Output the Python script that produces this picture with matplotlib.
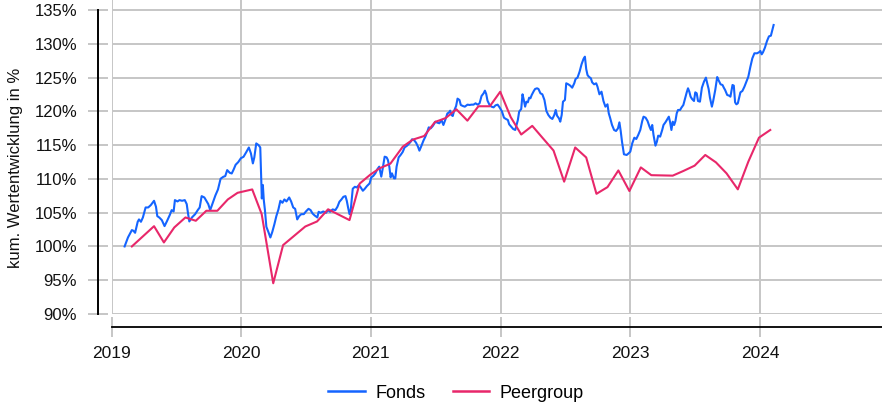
import matplotlib
matplotlib.use("Agg")
import matplotlib.pyplot as plt
from matplotlib.ticker import FuncFormatter

plt.rcParams['font.family'] = ['Liberation Sans', 'DejaVu Sans']

# Fonds: x = decimal year, y = cumulative performance in %
fonds_x = [
    2019.101, 2019.127, 2019.157, 2019.169, 2019.182, 2019.202, 2019.212, 2019.227, 2019.242, 2019.263,
    2019.283, 2019.303, 2019.328, 2019.343, 2019.353, 2019.368, 2019.388, 2019.409, 2019.429, 2019.449,
    2019.464, 2019.479, 2019.489, 2019.509, 2019.524, 2019.544, 2019.565, 2019.580, 2019.590, 2019.600,
    2019.620, 2019.645, 2019.665, 2019.680, 2019.695, 2019.716, 2019.731, 2019.746, 2019.761, 2019.781,
    2019.801, 2019.821, 2019.841, 2019.862, 2019.877, 2019.892, 2019.912, 2019.927, 2019.942, 2019.957,
    2019.977, 2019.998,
    2020.018, 2020.039, 2020.059, 2020.075, 2020.090, 2020.101, 2020.116, 2020.134, 2020.147, 2020.159,
    2020.167, 2020.174, 2020.183, 2020.194, 2020.209, 2020.225, 2020.240, 2020.256, 2020.271, 2020.287,
    2020.302, 2020.318, 2020.333, 2020.349, 2020.370, 2020.385, 2020.401, 2020.416, 2020.432, 2020.447,
    2020.463, 2020.483, 2020.499, 2020.519, 2020.535, 2020.550, 2020.566, 2020.587, 2020.597, 2020.612,
    2020.633, 2020.654, 2020.669, 2020.685, 2020.705, 2020.726, 2020.742, 2020.757, 2020.773, 2020.788,
    2020.804, 2020.814, 2020.824, 2020.835, 2020.845, 2020.860, 2020.876, 2020.891, 2020.907, 2020.922,
    2020.938, 2020.953, 2020.969, 2020.990,
    2021.003, 2021.018, 2021.034, 2021.049, 2021.064, 2021.080, 2021.090, 2021.106, 2021.121, 2021.131,
    2021.142, 2021.152, 2021.162, 2021.178, 2021.188, 2021.198, 2021.214, 2021.229, 2021.245, 2021.260,
    2021.276, 2021.291, 2021.307, 2021.317, 2021.332, 2021.348, 2021.363, 2021.374, 2021.389, 2021.405,
    2021.420, 2021.436, 2021.446, 2021.461, 2021.477, 2021.487, 2021.497, 2021.513, 2021.528, 2021.544,
    2021.559, 2021.575, 2021.590, 2021.601, 2021.611, 2021.621, 2021.631, 2021.642, 2021.657, 2021.668,
    2021.683, 2021.693, 2021.709, 2021.724, 2021.745, 2021.760, 2021.776, 2021.791, 2021.807, 2021.822,
    2021.838, 2021.853, 2021.869, 2021.879, 2021.889, 2021.899, 2021.915, 2021.930, 2021.946, 2021.961,
    2021.977, 2021.992,
    2022.010, 2022.026, 2022.041, 2022.056, 2022.066, 2022.082, 2022.097, 2022.113, 2022.123, 2022.133,
    2022.143, 2022.159, 2022.169, 2022.179, 2022.189, 2022.199, 2022.210, 2022.220, 2022.230, 2022.240,
    2022.256, 2022.266, 2022.281, 2022.292, 2022.307, 2022.322, 2022.338, 2022.353, 2022.368, 2022.384,
    2022.399, 2022.414, 2022.425, 2022.435, 2022.450, 2022.460, 2022.471, 2022.481, 2022.496, 2022.506,
    2022.522, 2022.537, 2022.552, 2022.568, 2022.578, 2022.593, 2022.609, 2022.624, 2022.639, 2022.650,
    2022.660, 2022.670, 2022.680, 2022.696, 2022.706, 2022.721, 2022.737, 2022.747, 2022.762, 2022.778,
    2022.793, 2022.808, 2022.824, 2022.834, 2022.844, 2022.859, 2022.875, 2022.890, 2022.905, 2022.916,
    2022.926, 2022.936, 2022.951, 2022.972, 2022.987,
    2023.000, 2023.015, 2023.031, 2023.046, 2023.061, 2023.077, 2023.092, 2023.102, 2023.118, 2023.133,
    2023.148, 2023.159, 2023.169, 2023.179, 2023.194, 2023.205, 2023.215, 2023.230, 2023.246, 2023.256,
    2023.271, 2023.286, 2023.297, 2023.307, 2023.317, 2023.327, 2023.338, 2023.348, 2023.358, 2023.368,
    2023.384, 2023.394, 2023.409, 2023.419, 2023.435, 2023.445, 2023.455, 2023.465, 2023.476, 2023.491,
    2023.501, 2023.512, 2023.522, 2023.537, 2023.552, 2023.568, 2023.583, 2023.593, 2023.604, 2023.614,
    2023.629, 2023.639, 2023.655, 2023.670, 2023.680, 2023.696, 2023.711, 2023.721, 2023.731, 2023.747,
    2023.762, 2023.772, 2023.788, 2023.798, 2023.808, 2023.818, 2023.829, 2023.839, 2023.849, 2023.864,
    2023.880, 2023.895, 2023.910, 2023.926, 2023.941, 2023.957, 2023.977, 2023.992, 2024.003, 2024.013,
    2024.023, 2024.038, 2024.054, 2024.069, 2024.084, 2024.095, 2024.105,
]
fonds_y = [
    100.00, 101.33, 102.42, 102.32, 102.02, 103.65, 104.00, 103.65, 104.29, 105.77,
    105.77, 106.12, 106.76, 105.87, 104.49, 104.29, 103.90, 103.01, 103.80, 104.64,
    105.38, 105.18, 106.86, 106.66, 106.86, 106.76, 106.86, 106.27, 104.88, 103.70,
    104.29, 104.78, 105.38, 105.77, 107.45, 107.25, 106.76, 106.27, 105.38, 106.46,
    107.55, 108.44, 110.02, 110.31, 110.41, 111.30, 110.90, 110.80, 111.40, 112.09,
    112.48, 113.07,
    113.27, 113.96, 114.65, 113.77, 112.29, 113.17, 115.25, 115.00, 114.65, 107.10,
    109.10, 106.90, 105.38, 102.91, 102.17, 101.33, 102.17, 103.30, 104.49, 105.48,
    106.76, 106.46, 106.96, 106.66, 107.25, 106.66, 105.77, 105.57, 104.00, 104.49,
    104.78, 104.78, 105.18, 105.57, 105.38, 104.88, 104.59, 104.29, 105.13, 104.98,
    105.18, 104.98, 105.38, 105.13, 105.48, 105.38, 105.87, 106.61, 106.96, 107.35,
    107.45, 106.76, 105.77, 104.78, 105.48, 108.54, 108.83, 108.73, 109.08, 108.73,
    108.24, 108.54, 108.93, 109.33,
    110.23, 110.43, 110.82, 111.41, 111.81, 110.33, 111.41, 113.29, 113.19, 112.80,
    111.81, 110.23, 110.82, 110.08, 110.08, 111.81, 113.19, 113.54, 113.98, 114.67,
    114.87, 115.16, 115.51, 115.86, 115.76, 115.36, 114.77, 114.18, 114.87, 115.66,
    116.25, 117.04, 117.63, 117.48, 117.83, 118.13, 118.47, 118.32, 118.23, 118.72,
    117.98, 118.82, 119.70, 119.80, 120.10, 119.46, 119.31, 120.10, 120.79, 121.88,
    121.68, 120.94, 120.79, 120.69, 120.99, 120.94, 120.99, 120.99, 121.19, 120.99,
    121.19, 122.27, 122.67, 123.06, 122.57, 121.58, 120.94, 120.69, 120.59, 120.89,
    120.99, 120.59,
    120.00, 119.06, 118.87, 118.72, 118.08, 117.73, 117.39, 117.24, 117.98, 118.72,
    119.95, 120.35, 122.52, 121.68, 120.69, 121.43, 121.33, 122.02, 121.93, 122.42,
    123.01, 123.31, 123.41, 123.31, 122.67, 122.52, 121.68, 120.05, 119.46, 119.06,
    118.87, 119.46, 120.20, 119.36, 118.96, 118.47, 119.46, 121.43, 121.68, 124.15,
    124.00, 123.80, 123.50, 124.15, 124.79, 124.99, 125.87, 126.96, 127.75, 128.09,
    126.27, 125.38, 125.13, 124.89, 124.29, 124.00, 124.15, 123.65, 122.52, 122.91,
    121.53, 120.69, 121.04, 119.70, 119.06, 117.98, 117.24, 117.09, 117.48, 118.37,
    117.09, 115.51, 113.64, 113.54, 113.78,
    114.03, 115.26, 116.10, 115.90, 116.50, 117.24, 118.57, 119.21, 119.06, 118.57,
    117.73, 117.24, 117.98, 116.50, 114.92, 115.51, 116.40, 116.25, 117.24, 117.98,
    118.38, 118.87, 119.21, 118.38, 117.24, 118.47, 117.98, 118.57, 119.71, 120.20,
    120.20, 120.54, 120.94, 121.68, 122.81, 123.41, 122.91, 122.17, 121.83, 121.53,
    122.81, 122.67, 121.53, 121.43, 123.50, 124.39, 124.99, 124.15, 123.31, 122.03,
    120.69, 121.53, 123.16, 125.08, 124.64, 124.00, 123.90, 123.50, 123.16, 122.42,
    122.32, 122.17, 123.90, 123.80, 121.33, 121.04, 121.19, 122.03, 122.81, 123.01,
    123.65, 124.39, 125.13, 126.61, 127.85, 128.59, 128.59, 128.74, 128.93, 128.44,
    128.74, 129.43, 130.41, 131.10, 131.20, 132.04, 132.78,
]

# Peergroup: x = decimal year, y = cumulative performance in %
peer_x = [
    2019.157, 2019.328, 2019.404, 2019.484, 2019.570, 2019.650, 2019.731, 2019.816, 2019.897, 2019.972,
    2020.085, 2020.158, 2020.247, 2020.323, 2020.494, 2020.585, 2020.670, 2020.835, 2020.913, 2020.995,
    2021.067, 2021.150, 2021.246, 2021.322, 2021.411, 2021.494, 2021.576, 2021.659, 2021.744, 2021.829,
    2021.917, 2021.997, 2022.078, 2022.159, 2022.244, 2022.324, 2022.408, 2022.490, 2022.575, 2022.660,
    2022.739, 2022.824, 2022.908, 2022.993, 2023.081, 2023.162, 2023.327, 2023.409, 2023.496, 2023.578,
    2023.660, 2023.742, 2023.829, 2023.910, 2023.992, 2024.079,
]
peer_y = [
    100.00, 103.00, 100.59, 102.81, 104.29, 103.80, 105.28, 105.28, 106.96, 107.94,
    108.44, 104.78, 94.55, 100.20, 102.95, 103.70, 105.50, 103.90, 109.30, 110.62,
    111.57, 112.25, 114.77, 115.80, 116.35, 118.42, 119.00, 120.30, 118.62, 120.75,
    120.75, 122.90, 119.15, 116.57, 117.85, 116.06, 114.20, 109.59, 114.65, 113.17,
    107.79, 108.78, 111.25, 108.20, 111.70, 110.55, 110.48, 111.17, 111.96, 113.54,
    112.45, 110.82, 108.45, 112.55, 116.10, 117.24,
]

year_ticks = [2019, 2020, 2021, 2022, 2023, 2024]
pct_ticks = [90, 95, 100, 105, 110, 115, 120, 125, 130, 135]
series_names = ["Fonds", "Peergroup"]
y_title = "kum. Wertentwicklung in %"

BLUE = "#1464FF"
PINK = "#E8276A"
GRID = "#c6c6c6"

W, H = 882, 405
fig = plt.figure(figsize=(W / 100, H / 100), dpi=100)
ax = fig.add_axes([111.5 / W, (H - 314) / H, (W - 111.5) / W, 314 / H])

ax.plot(fonds_x, fonds_y, color=BLUE, lw=1.5, label=series_names[0], zorder=3)
ax.plot(peer_x, peer_y, color=PINK, lw=1.5, label=series_names[1], zorder=3)

ax.set_xlim(2019.0, 2019.0 + (W - 111.5) / 129.7)
ax.set_ylim(90, 135 + 10 / 33.78 * 5)

ax.set_xticks(year_ticks)
ax.set_xticklabels([str(y) for y in year_ticks])
ax.set_yticks(pct_ticks)
ax.yaxis.set_major_formatter(FuncFormatter(lambda v, p: f"{v:.0f}%"))

ax.grid(True, color=GRID, lw=1.4, zorder=0)
ax.set_axisbelow(True)
ax.get_xgridlines()[0].set_visible(False)

for s in ["top", "right"]:
    ax.spines[s].set_visible(False)
ax.spines["left"].set_position(("outward", 13.5 * 0.72))
ax.spines["bottom"].set_position(("outward", 13 * 0.72))
ax.spines["left"].set_bounds(90, 135)
ax.spines["bottom"].set_bounds(2019, ax.get_xlim()[1])
ax.spines["left"].set_linewidth(1.4)
ax.spines["bottom"].set_linewidth(1.3)

ax.tick_params(axis="both", direction="inout", length=14.4, width=1.4,
               color=GRID, labelsize=12, labelcolor="#111111")
ax.tick_params(axis="y", pad=7.9)
ax.tick_params(axis="x", pad=6.8, labelsize=12.5)

fig.text(16 / W, 1 - 168 / H, y_title, rotation=90, ha="center", va="center",
         fontsize=12, color="#111111")

leg = fig.legend(loc="center", bbox_to_anchor=(456 / W, 1 - 393 / H), ncol=2,
                 frameon=False, fontsize=13, handlelength=2.0, handletextpad=0.6,
                 columnspacing=1.5)
for line in leg.get_lines():
    line.set_linewidth(1.8)

fig.savefig("out.png", dpi=100)
